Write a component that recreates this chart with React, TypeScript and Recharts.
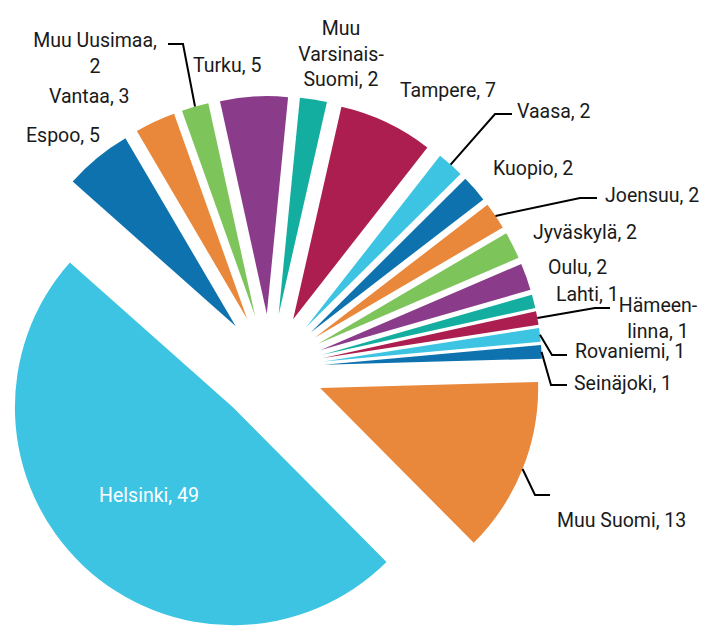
import { PieChart, Pie, Cell, Sector } from 'recharts'

// slices in clockwise order, starting with Helsinki
const names = [
  'Helsinki',
  'Espoo',
  'Vantaa',
  'Muu Uusimaa',
  'Turku',
  'Muu Varsinais-Suomi',
  'Tampere',
  'Vaasa',
  'Kuopio',
  'Joensuu',
  'Jyväskylä',
  'Oulu',
  'Lahti',
  'Hämeenlinna',
  'Rovaniemi',
  'Seinäjoki',
  'Muu Suomi',
]
const values = [49, 5, 3, 2, 5, 2, 7, 2, 2, 2, 2, 2, 1, 1, 1, 1, 13]
const COLORS = ['#3DC4E3', '#0E72AE', '#E9873A', '#7DC45A', '#8A3C8B', '#13AEA0', '#AC1E4F']

const data = names.map((name, i) => ({ name, value: values[i] }))

const EXPLODE = 54
const RADIAN = Math.PI / 180
const FONT = 'Roboto, sans-serif'
const FONT_SIZE = 19.5

type LabelLayout = {
  lines: string[]
  x: number
  y: number
  anchor: 'start' | 'middle'
  path?: [number, number][]
}

// hand placed labels, as in the original
const LABELS: Record<string, LabelLayout> = {
  Espoo: { lines: ['Espoo, 5'], x: 26, y: 142, anchor: 'start' },
  Vantaa: { lines: ['Vantaa, 3'], x: 49, y: 103, anchor: 'start' },
  'Muu Uusimaa': {
    lines: ['Muu Uusimaa,', '2'],
    x: 95,
    y: 47,
    anchor: 'middle',
    path: [[183, 44], [168, 44]],
  },
  Turku: { lines: ['Turku, 5'], x: 193, y: 72, anchor: 'start' },
  'Muu Varsinais-Suomi': {
    lines: ['Muu', 'Varsinais-', 'Suomi, 2'],
    x: 341,
    y: 35,
    anchor: 'middle',
  },
  Tampere: { lines: ['Tampere, 7'], x: 400, y: 97, anchor: 'start' },
  Vaasa: {
    lines: ['Vaasa, 2'],
    x: 517,
    y: 118,
    anchor: 'start',
    path: [[495, 114], [512, 114]],
  },
  Kuopio: { lines: ['Kuopio, 2'], x: 493, y: 175, anchor: 'start' },
  Joensuu: {
    lines: ['Joensuu, 2'],
    x: 605,
    y: 202,
    anchor: 'start',
    path: [[580, 198], [597, 198]],
  },
  'Jyväskylä': { lines: ['Jyväskylä, 2'], x: 533, y: 239, anchor: 'start' },
  Oulu: { lines: ['Oulu, 2'], x: 548, y: 274, anchor: 'start' },
  Lahti: { lines: ['Lahti, 1'], x: 556, y: 301, anchor: 'start' },
  'Hämeenlinna': {
    lines: ['Hämeen-', 'linna, 1'],
    x: 658,
    y: 312,
    anchor: 'middle',
    path: [[595, 308], [610, 308]],
  },
  Rovaniemi: {
    lines: ['Rovaniemi, 1'],
    x: 575,
    y: 358,
    anchor: 'start',
    path: [[552, 355], [567, 355]],
  },
  'Seinäjoki': {
    lines: ['Seinäjoki, 1'],
    x: 574,
    y: 390,
    anchor: 'start',
    path: [[551, 385], [567, 385]],
  },
  'Muu Suomi': {
    lines: ['Muu Suomi, 13'],
    x: 557,
    y: 527,
    anchor: 'start',
    path: [[535, 495], [550, 495]],
  },
}

const ExplodedSector = (props: any) => {
  const { cx, cy, midAngle } = props
  const dx = EXPLODE * Math.cos(-midAngle * RADIAN)
  const dy = EXPLODE * Math.sin(-midAngle * RADIAN)
  return <Sector {...props} cx={cx + dx} cy={cy + dy} stroke="none" />
}

const renderLabel = (props: any) => {
  const { cx, cy, midAngle, outerRadius, name, value } = props
  const cos = Math.cos(-midAngle * RADIAN)
  const sin = Math.sin(-midAngle * RADIAN)

  if (name === 'Helsinki') {
    const r = EXPLODE + outerRadius * 0.56
    return (
      <text
        x={cx + r * cos}
        y={cy + r * sin}
        fill="#fff"
        textAnchor="middle"
        dominantBaseline="central"
        fontFamily={FONT}
        fontSize={FONT_SIZE}
      >
        {`${name}, ${value}`}
      </text>
    )
  }

  const l = LABELS[name]
  if (!l) return null
  const ax = cx + (EXPLODE + outerRadius) * cos
  const ay = cy + (EXPLODE + outerRadius) * sin
  const pts = l.path ? [[ax, ay], ...l.path] : null

  return (
    <g>
      {pts && (
        <polyline
          points={pts.map((p) => p.join(',')).join(' ')}
          fill="none"
          stroke="#000"
          strokeWidth={2}
        />
      )}
      <text
        x={l.x}
        y={l.y}
        fill="#1a1a1a"
        textAnchor={l.anchor}
        fontFamily={FONT}
        fontSize={FONT_SIZE}
      >
        {l.lines.map((line, i) => (
          <tspan key={i} x={l.x} dy={i === 0 ? 0 : 25.5}>
            {line}
          </tspan>
        ))}
      </text>
    </g>
  )
}

export default function App() {
  return (
    <div style={{ position: 'absolute', left: 0, top: 0, width: 719, height: 635, background: '#fff' }}>
      <PieChart width={719} height={635} margin={{ top: 0, right: 0, bottom: 0, left: 0 }}>
        <Pie
          data={data}
          dataKey="value"
          nameKey="name"
          cx={270}
          cy={368}
          outerRadius={218}
          startAngle={-45.2}
          endAngle={-405.2}
          shape={ExplodedSector}
          label={renderLabel}
          labelLine={false}
          isAnimationActive={false}
        >
          {data.map((d, i) => (
            <Cell key={d.name} fill={COLORS[i % COLORS.length]} />
          ))}
        </Pie>
      </PieChart>
    </div>
  )
}
